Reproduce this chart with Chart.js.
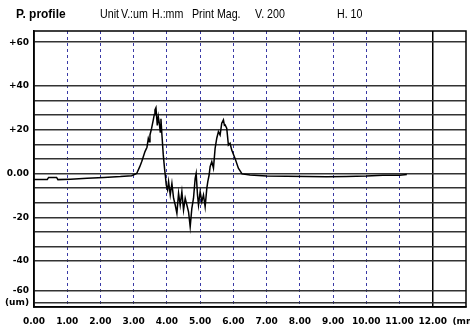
<!DOCTYPE html>
<html>
<head>
<meta charset="utf-8">
<script src="https://cdn.jsdelivr.net/npm/chart.js@4.4.1/dist/chart.umd.min.js"></script>
<style>
  body { margin: 0; background: #fff; }
  #wrap { position: relative; width: 470px; height: 332px; }
  #wrap canvas { position: absolute; left: 0; top: 0; }
  .hd {
    position: absolute; font-family: "Liberation Sans", Arial, sans-serif; color: #000;
    line-height: 12px; white-space: nowrap; font-size: 13px; top: 8px;
    transform: scaleX(0.82); transform-origin: 0 0;
  }
  .hd.b { font-weight: bold; transform: scaleX(0.92); }
</style>
</head>
<body>
<div id="wrap">
  <canvas id="profile" width="470" height="332"></canvas>
  <span class="hd b" style="left:16px;">P. profile</span>
  <span class="hd" style="left:100px;">Unit</span>
  <span class="hd" style="left:121px;">V.:um</span>
  <span class="hd" style="left:152px;">H.:mm</span>
  <span class="hd" style="left:192px;">Print Mag.</span>
  <span class="hd" style="left:255px;">V. 200</span>
  <span class="hd" style="left:337px;">H. 10</span>
</div>
<script>
/* ---------- data ---------- */
// horizontal position in mm
const profileX = [
  0.00, 0.40, 0.44, 0.68, 0.72, 1.10, 1.60, 2.10, 2.60, 2.94,
  3.09, 3.18, 3.24, 3.34, 3.40, 3.44, 3.47, 3.49, 3.54, 3.59,
  3.62, 3.64, 3.67, 3.69, 3.71, 3.74, 3.77, 3.80, 3.82, 3.85,
  3.89, 3.93, 3.95, 3.98, 4.02, 4.05, 4.10, 4.15, 4.20, 4.25,
  4.30, 4.35, 4.40, 4.45, 4.50, 4.55, 4.60, 4.65, 4.70, 4.75,
  4.80, 4.85, 4.88, 4.92, 4.95, 5.00, 5.05, 5.10, 5.15, 5.20,
  5.23, 5.27, 5.30, 5.35, 5.40, 5.45, 5.50, 5.55, 5.60, 5.65,
  5.70, 5.73, 5.75, 5.80, 5.85, 5.90, 5.95, 6.05, 6.15, 6.26,
  6.50, 7.00, 7.60, 8.20, 8.80, 9.40, 10.00, 10.50, 11.00, 11.22
];
// height in um
const profileY = [
  -2.8, -2.7, -1.8, -1.8, -2.8, -2.6, -2.2, -1.8, -1.4, -1.0,
  0.0, 3.0, 5.4, 10.0, 12.0, 16.0, 14.5, 17.6, 20.7, 24.5,
  27.0, 29.0, 30.0, 26.0, 22.0, 26.0, 23.0, 19.0, 25.0, 17.6,
  8.5, 2.0, -0.7, -5.3, -7.5, -3.7, -9.8, -4.5, -11.3, -14.4,
  -18.2, -9.0, -14.4, -8.3, -16.7, -11.3, -14.4, -17.5, -24.3, -15.9,
  -11.3, -2.2, 0.0, -9.8, -14.4, -8.3, -12.9, -9.8, -15.2, -6.8,
  -3.7, -0.7, 3.1, 5.4, 2.4, 11.5, 16.1, 19.1, 17.6, 23.0,
  24.5, 22.0, 22.2, 20.7, 13.0, 13.8, 10.7, 6.9, 2.4, -0.2,
  -0.7, -1.2, -1.3, -1.4, -1.5, -1.4, -1.2, -0.8, -0.8, -0.5
];

// x ticks (mm) and their labels
const xTicks = [0, 1, 2, 3, 4, 5, 6, 7, 8, 9, 10, 11, 12, 13];
const xLabels = ["0.00", "1.00", "2.00", "3.00", "4.00", "5.00", "6.00",
  "7.00", "8.00", "9.00", "10.00", "11.00", "12.00", "(mm)"];

// y grid lines (um) and their labels, as printed
const yTicks = [60, 40, 33.3, 26.7, 20, 13.3, 6.7, 0, -6.7, -13.3, -20,
  -26.7, -33.3, -40, -53.7, -59.2];
const yLabels = ["+60", "+40", "", "", "+20", "", "", "0.00", "", "", "-20",
  "", "", "-40", "-60", "(um)"];

const tickFont = { family: "DejaVu Sans", weight: "bold", size: 9 };

// frame around the plot area
const framePlugin = {
  id: "frame",
  afterDraw(chart) {
    const { ctx, chartArea: a } = chart;
    ctx.save();
    ctx.strokeStyle = "#000";
    ctx.lineWidth = 1.5;
    ctx.strokeRect(a.left, a.top, a.right - a.left, a.bottom - a.top);
    ctx.restore();
  },
};

const bgPlugin = {
  id: "bg",
  beforeDraw(chart) {
    const ctx = chart.ctx;
    ctx.save();
    ctx.fillStyle = "#fff";
    ctx.fillRect(0, 0, chart.width, chart.height);
    ctx.restore();
  },
};

new Chart(document.getElementById("profile"), {
  type: "line",
  plugins: [bgPlugin, framePlugin],
  data: {
    datasets: [
      {
        data: profileX.map((x, i) => ({ x: x, y: profileY[i] })),
        borderColor: "#000",
        borderWidth: 1.5,
        pointRadius: 0,
        tension: 0,
        fill: false,
      },
    ],
  },
  options: {
    responsive: false,
    animation: false,
    layout: { padding: { top: 31, right: 4, left: 0, bottom: 0 } },
    plugins: { legend: { display: false }, tooltip: { enabled: false } },
    scales: {
      x: {
        type: "linear",
        min: 0,
        max: 13,
        position: "bottom",
        afterBuildTicks: (s) => { s.ticks = xTicks.map((v) => ({ value: v })); },
        afterFit: (s) => { s.height = 25; s.paddingLeft = 0; s.paddingRight = 0; },
        grid: {
          color: (c) => (c.tick && c.tick.value === 12 ? "#000" : "rgba(0,0,0,0)"),
          lineWidth: 1.5,
          drawTicks: false,
        },
        border: { display: true, color: "#000", width: 1.5 },
        ticks: {
          callback: (v, i) => xLabels[i],
          autoSkip: false,
          maxRotation: 0,
          color: "#000",
          font: tickFont,
          padding: 9,
        },
      },
      xDash: {
        type: "linear",
        min: 0,
        max: 13,
        position: "bottom",
        afterBuildTicks: (s) => { s.ticks = xTicks.map((v) => ({ value: v })); },
        afterFit: (s) => { s.height = 0; s.paddingLeft = 0; s.paddingRight = 0; },
        grid: {
          color: (c) => (c.tick && c.tick.value > 0 && c.tick.value < 12 ? "#3a3aa6" : "rgba(0,0,0,0)"),
          lineWidth: 1,
          drawTicks: false,
        },
        border: { display: false, dash: [3, 3] },
        ticks: { display: false },
      },
      y: {
        type: "linear",
        min: -61,
        max: 65.1,
        afterBuildTicks: (s) => { s.ticks = yTicks.map((v) => ({ value: v })); },
        afterFit: (s) => { s.width = 34; s.paddingTop = 0; s.paddingBottom = 0; },
        grid: { color: "#333", lineWidth: 1.5, drawTicks: false },
        border: { display: true, color: "#000", width: 1.5 },
        ticks: {
          callback: (v, i) => yLabels[i],
          autoSkip: false,
          color: "#000",
          font: tickFont,
          padding: 5,
        },
      },
    },
  },
});
</script>
</body>
</html>
